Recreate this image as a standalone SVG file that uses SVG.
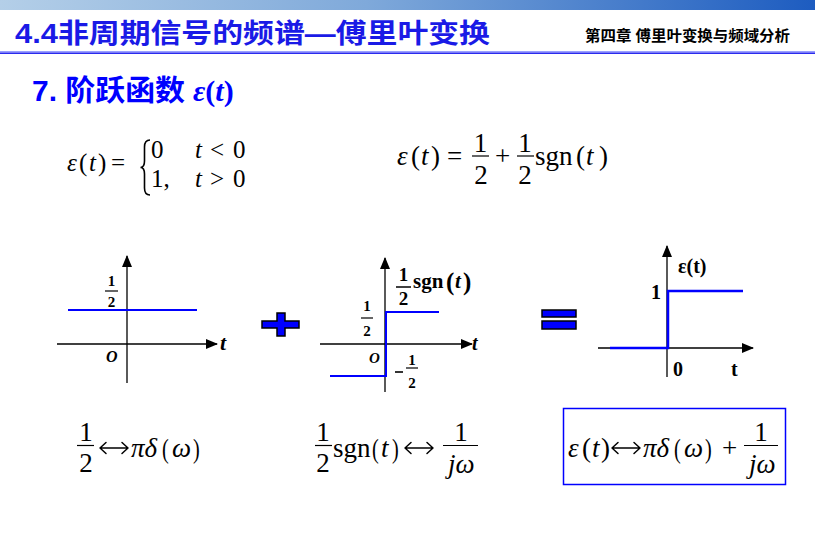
<svg xmlns="http://www.w3.org/2000/svg" width="815" height="554" viewBox="0 0 815 554">
<defs>
<linearGradient id="topbar" x1="0" y1="0" x2="1" y2="0">
<stop offset="0" stop-color="#b4cfe8"/>
<stop offset="0.45" stop-color="#7fa9da"/>
<stop offset="1" stop-color="#1d5cc0"/>
</linearGradient>
<marker id="arr" viewBox="0 0 12 10" refX="11" refY="5" markerWidth="12" markerHeight="10" markerUnits="userSpaceOnUse" orient="auto">
<path d="M0,0 L12,5 L0,10 Z" fill="#000"/>
</marker>
<path id="lr" d="M1,0 H29 M7,-5.5 L1,0 L7,5.5 M23,-5.5 L29,0 L23,5.5" fill="none" stroke="#000" stroke-width="1.5" stroke-linecap="round" stroke-linejoin="round"/>
</defs>
<style>
.m{font-family:"Liberation Serif","Times New Roman",serif;font-size:27px;fill:#000}
.s{font-size:25px}
.i{font-style:italic}
.b{font-weight:bold}
.g{font-family:"Liberation Serif","Times New Roman",serif;font-weight:bold;fill:#000}
.ax{stroke:#000;stroke-width:1.3;fill:none}
.bl{stroke:#0000ff;stroke-width:2;fill:none}
.fb{stroke:#000;stroke-width:1.2}
.sym{fill:#0000ff;stroke:#000;stroke-width:1.5}
</style>
<rect width="815" height="554" fill="#fff"/>
<g id="header">
<rect x="0" y="0" width="815" height="10" fill="url(#topbar)"/>
<rect x="0" y="51" width="815" height="1.5" fill="#9aa0ff"/>
<rect x="0" y="52.5" width="815" height="1.5" fill="#2a2aee"/>
<text x="15" y="43" font-family="Liberation Sans,'Noto Sans CJK SC',sans-serif" font-weight="bold" font-size="27" fill="#1a1ae6" textLength="475" lengthAdjust="spacingAndGlyphs">4.4非周期信号的频谱—傅里叶变换</text>
<text x="585" y="41" font-family="Liberation Sans,'Noto Sans CJK SC',sans-serif" font-weight="bold" font-size="15" fill="#000" textLength="205" lengthAdjust="spacingAndGlyphs">第四章 傅里叶变换与频域分析</text>
</g>
<g id="section-title">
<text x="32" y="101" font-family="Liberation Sans,'Noto Sans CJK SC',sans-serif" font-weight="bold" font-size="29" fill="#0000ff" textLength="153" lengthAdjust="spacingAndGlyphs">7. 阶跃函数</text>
<text x="193" y="101" font-family="Liberation Serif,serif" font-weight="bold" font-size="30" fill="#0000ff"><tspan font-style="italic">ε</tspan>(<tspan font-style="italic">t</tspan>)</text>
</g>
<g id="formula-def">
<text class="m s i" x="67" y="171">ε</text>
<text class="m s" x="79" y="171">(</text>
<text class="m s i" x="89" y="171">t</text>
<text class="m s" x="98" y="171">)</text>
<text class="m s" x="111" y="171">=</text>
<path d="M150,140 Q144.5,140 144.5,147 L144.5,161 Q144.5,167.5 140.5,167.5 Q144.5,167.5 144.5,174 L144.5,188 Q144.5,195 150,195" fill="none" stroke="#000" stroke-width="1.6"/>
<text class="m s" x="151" y="158">0</text>
<text class="m s i" x="195" y="158">t</text>
<text class="m s" x="210" y="158">&lt;</text>
<text class="m s" x="233" y="158">0</text>
<text class="m s" x="151" y="187">1,</text>
<text class="m s i" x="195" y="187">t</text>
<text class="m s" x="210" y="187">&gt;</text>
<text class="m s" x="233" y="187">0</text>
</g>
<g id="formula-decomp">
<text class="m i" x="397" y="165">ε</text>
<text class="m" x="411" y="165">(</text>
<text class="m i" x="421" y="165">t</text>
<text class="m" x="431" y="165">)</text>
<text class="m" x="447" y="165">=</text>
<text class="m" x="480.5" y="152" text-anchor="middle">1</text>
<line class="fb" x1="472" y1="156" x2="489" y2="156"/>
<text class="m" x="481" y="184" text-anchor="middle">2</text>
<text class="m" x="495" y="165">+</text>
<text class="m" x="525" y="152" text-anchor="middle">1</text>
<line class="fb" x1="517" y1="156" x2="534" y2="156"/>
<text class="m" x="525" y="184" text-anchor="middle">2</text>
<text class="m" x="535" y="165">sgn</text>
<text class="m" x="576" y="165">(</text>
<text class="m i" x="586" y="165">t</text>
<text class="m" x="599" y="165">)</text>
</g>
<g id="graph-half">
<line class="ax" x1="127" y1="383" x2="127" y2="256" marker-end="url(#arr)"/>
<line class="ax" x1="57" y1="344" x2="217" y2="344" marker-end="url(#arr)"/>
<line class="bl" x1="68" y1="310" x2="197" y2="310"/>
<text class="g" x="111.5" y="286" font-size="15" text-anchor="middle">1</text>
<line class="fb" x1="105" y1="291" x2="118" y2="291"/>
<text class="g" x="111.5" y="307" font-size="15" text-anchor="middle">2</text>
<text class="g i" x="106" y="362" font-size="16">O</text>
<text class="g i" x="220" y="350" font-size="22">t</text>
</g>
<g id="plus">
<path class="sym" d="M277,313 H285 V321 H299 V328 H285 V336 H277 V328 H262 V321 H277 Z"/>
</g>
<g id="graph-sgn">
<line class="ax" x1="385" y1="392" x2="385" y2="258" marker-end="url(#arr)"/>
<line class="ax" x1="320" y1="344" x2="472" y2="344" marker-end="url(#arr)"/>
<polyline class="bl" points="330,376 386,376 386,312 439,312"/>
<text class="g" x="367" y="311" font-size="15" text-anchor="middle">1</text>
<line class="fb" x1="361" y1="318" x2="373" y2="318"/>
<text class="g" x="367" y="336" font-size="15" text-anchor="middle">2</text>
<text class="g i" x="369" y="363" font-size="15">O</text>
<line x1="395" y1="372" x2="403" y2="372" stroke="#000" stroke-width="1.6"/>
<text class="g" x="412" y="365" font-size="15" text-anchor="middle">1</text>
<line class="fb" x1="406" y1="368" x2="418" y2="368"/>
<text class="g" x="412" y="388" font-size="15" text-anchor="middle">2</text>
<text class="g" x="403.5" y="281" font-size="19" text-anchor="middle">1</text>
<line x1="396" y1="287" x2="411" y2="287" stroke="#000" stroke-width="1.5"/>
<text class="g" x="403.5" y="305" font-size="19" text-anchor="middle">2</text>
<text class="g" x="413" y="288" font-size="21">sgn</text>
<text class="g" x="446" y="290" font-size="25">(</text>
<text class="g i" x="455" y="288" font-size="21">t</text>
<text class="g" x="463" y="290" font-size="25">)</text>
<text class="g i" x="472" y="350" font-size="20">t</text>
</g>
<g id="equals">
<rect class="sym" x="542" y="310" width="34" height="7"/>
<rect class="sym" x="542" y="321" width="34" height="8"/>
</g>
<g id="graph-step">
<line class="ax" x1="667" y1="377" x2="667" y2="246" marker-end="url(#arr)"/>
<line class="ax" x1="598" y1="348" x2="753" y2="348" marker-end="url(#arr)"/>
<polyline points="610,348 668,348 668,291 743,291" fill="none" stroke="#0000ff" stroke-width="2.5"/>
<text class="g" x="678" y="273" font-size="20">ε(t)</text>
<text class="g" x="651" y="299" font-size="20">1</text>
<text class="g" x="673" y="376" font-size="20">0</text>
<text class="g" x="731" y="376" font-size="20">t</text>
</g>
<g id="ft-half">
<text class="m" x="86" y="441" text-anchor="middle">1</text>
<line class="fb" x1="77" y1="445.5" x2="94" y2="445.5"/>
<text class="m" x="86" y="472" text-anchor="middle">2</text>
<use href="#lr" x="99" y="448"/>
<text class="m i" x="131" y="457">πδ</text>
<text class="m" x="162" y="458" font-size="32" transform="translate(162 458) scale(0.75 1) translate(-162 -458)">(</text>
<text class="m i" x="172" y="457">ω</text>
<text class="m" x="193" y="458" font-size="32" transform="translate(193 458) scale(0.75 1) translate(-193 -458)">)</text>
</g>
<g id="ft-sgn">
<text class="m" x="323" y="441" text-anchor="middle">1</text>
<line class="fb" x1="315" y1="445.5" x2="332" y2="445.5"/>
<text class="m" x="323" y="472" text-anchor="middle">2</text>
<text class="m" x="333" y="457">sgn</text>
<text class="m" x="372" y="458" font-size="32" transform="translate(372 458) scale(0.75 1) translate(-372 -458)">(</text>
<text class="m i" x="381" y="457">t</text>
<text class="m" x="392" y="458" font-size="32" transform="translate(392 458) scale(0.75 1) translate(-392 -458)">)</text>
<use href="#lr" x="404" y="448"/>
<text class="m" x="461" y="441" text-anchor="middle">1</text>
<line class="fb" x1="443" y1="445.5" x2="478" y2="445.5"/>
<text class="m i" x="448" y="473">jω</text>
</g>
<g id="ft-step">
<rect x="563.5" y="408.5" width="222" height="76" fill="none" stroke="#0000ff" stroke-width="1.5"/>
<text class="m i" x="568" y="457">ε</text>
<text class="m" x="582" y="457">(</text>
<text class="m i" x="592" y="457">t</text>
<text class="m" x="601" y="457">)</text>
<use href="#lr" x="611" y="448"/>
<text class="m i" x="643" y="457">πδ</text>
<text class="m" x="674" y="458" font-size="32" transform="translate(674 458) scale(0.75 1) translate(-674 -458)">(</text>
<text class="m i" x="684" y="457">ω</text>
<text class="m" x="705" y="458" font-size="32" transform="translate(705 458) scale(0.75 1) translate(-705 -458)">)</text>
<text class="m" x="722" y="457">+</text>
<text class="m" x="761" y="441" text-anchor="middle">1</text>
<line class="fb" x1="744" y1="445.5" x2="778" y2="445.5"/>
<text class="m i" x="749" y="473">jω</text>
</g>
</svg>
